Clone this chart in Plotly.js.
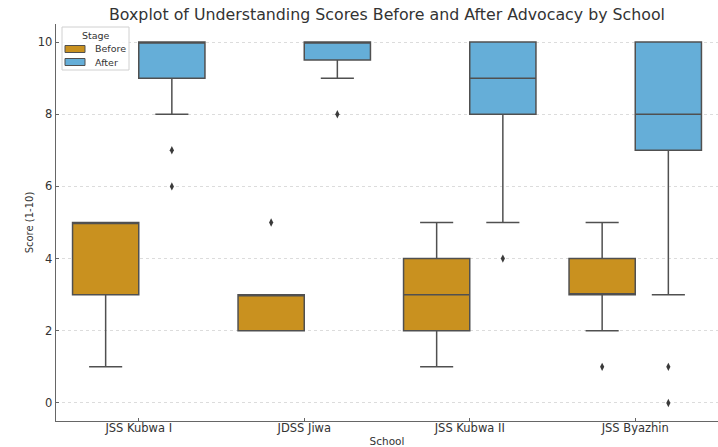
<!DOCTYPE html>
<html>
<head>
<meta charset="utf-8">
<script src="https://cdn.plot.ly/plotly-3.0.1.min.js"></script>
<style>html,body{margin:0;padding:0;background:#fff;}#chart{width:718px;height:447px;}</style>
</head>
<body>
<div id="chart"></div>
<script>
const schools = ["JSS Kubwa I", "JDSS Jiwa", "JSS Kubwa II", "JSS Byazhin"];
const stages = ["Before", "After"];

// Estimated individual scores per school (read from box/whisker/outlier positions)
const beforeKubwaI  = [1, 3, 3, 5, 5, 5, 5, 5, 5];
const beforeJiwa    = [2, 2, 2, 2, 3, 3, 3, 3, 5];
const beforeKubwaII = [1, 2, 2, 3, 3, 3, 4, 4, 5];
const beforeByazhin = [1, 2, 3, 3, 3, 4, 4, 4, 5];

const afterKubwaI  = [6, 7, 8, 9, 9, 9, 10, 10, 10, 10, 10, 10, 10];
const afterJiwa    = [8, 9, 9, 10, 10, 10, 10, 10, 10, 10, 10];
const afterKubwaII = [4, 5, 8, 8, 9, 10, 10, 10, 10];
const afterByazhin = [0, 1, 3, 7, 7, 8, 8, 9, 10, 10, 10, 10, 10];

const beforeData = [beforeKubwaI, beforeJiwa, beforeKubwaII, beforeByazhin];
const afterData  = [afterKubwaI, afterJiwa, afterKubwaII, afterByazhin];

const colors = {Before: "#C9911F", After: "#65AED8"};
const edge = "#505050";

function makeTrace(name, groups) {
  const x = [], y = [];
  groups.forEach((vals, i) => vals.forEach(v => { x.push(schools[i]); y.push(v); }));
  return {
    type: "box", name: name, x: x, y: y,
    quartilemethod: "inclusive",
    boxpoints: "outliers", jitter: 0, pointpos: 0,
    fillcolor: colors[name],
    line: {color: edge, width: 1.5},
    whiskerwidth: 0.5,
    showlegend: false,
    marker: {symbol: "diamond-tall", size: 6, color: "#3a3a3a", outliercolor: "#3a3a3a", line: {width: 0}}
  };
}

const data = stages.map((s, k) => makeTrace(s, k === 0 ? beforeData : afterData));

const font = "DejaVu Sans, sans-serif";

// legend drawn in paper coordinates (plot area: x 56..718, y 24..421)
const PW = 662, PH = 397, PL = 56, PT = 24;
const px = v => (v - PL) / PW;
const py = v => 1 - (v - PT) / PH;
const shapes = [
  {type: "rect", xref: "paper", yref: "paper", x0: px(62), x1: px(129), y0: py(70), y1: py(27),
   fillcolor: "rgba(255,255,255,0.85)", line: {color: "#d0d0d0", width: 1}, layer: "above"}
];
const annotations = [
  {xref: "paper", yref: "paper", x: px(95.5), y: py(36), text: "Stage", showarrow: false,
   xanchor: "center", yanchor: "middle", font: {family: font, size: 9.5, color: "#333"}}
];
stages.forEach((s, i) => {
  const cy = 49 + i * 13;
  shapes.push({type: "rect", xref: "paper", yref: "paper", x0: px(65), x1: px(85), y0: py(cy + 3.5), y1: py(cy - 3.5),
    fillcolor: colors[s], line: {color: edge, width: 1}, layer: "above"});
  annotations.push({xref: "paper", yref: "paper", x: px(93), y: py(cy), text: s, showarrow: false,
    xanchor: "left", yanchor: "middle", font: {family: font, size: 9.5, color: "#333"}});
});

const layout = {
  width: 718, height: 447,
  margin: {l: 56, r: 0, t: 24, b: 26},
  paper_bgcolor: "#fff", plot_bgcolor: "#fff",
  font: {family: font, color: "#333"},
  boxmode: "group", boxgap: 0.2, boxgroupgap: 0,
  showlegend: false,
  title: {text: "Boxplot of Understanding Scores Before and After Advocacy by School",
          font: {family: font, size: 15.8, color: "#333"},
          x: 0.5, xref: "paper", y: 1 - 14/447, yref: "container", yanchor: "middle"},
  xaxis: {
    type: "category", categoryorder: "array", categoryarray: schools,
    range: [-0.5, 3.5],
    showline: true, linecolor: "#666", linewidth: 1.3, mirror: false,
    ticks: "inside", ticklen: 3, tickcolor: "#666",
    ticklabelstandoff: -4,
    showgrid: false, zeroline: false,
    tickfont: {family: font, size: 11.5, color: "#333"},
    title: {text: "School", font: {family: font, size: 10.5, color: "#333"}, standoff: 3}
  },
  yaxis: {
    range: [-0.5, 10.5],
    tickvals: [0, 2, 4, 6, 8, 10],
    showline: true, linecolor: "#666", linewidth: 1.3,
    ticks: "inside", ticklen: 3, tickcolor: "#666",
    showgrid: true, gridcolor: "#dcdcdc", griddash: "dot", gridwidth: 1,
    zeroline: false,
    tickfont: {family: font, size: 11.5, color: "#333"},
    title: {text: "Score (1-10)", font: {family: font, size: 10, color: "#333"}, standoff: 2}
  },
  shapes: shapes,
  annotations: annotations
};

Plotly.newPlot("chart", data, layout, {displayModeBar: false, staticPlot: true});
</script>
</body>
</html>
